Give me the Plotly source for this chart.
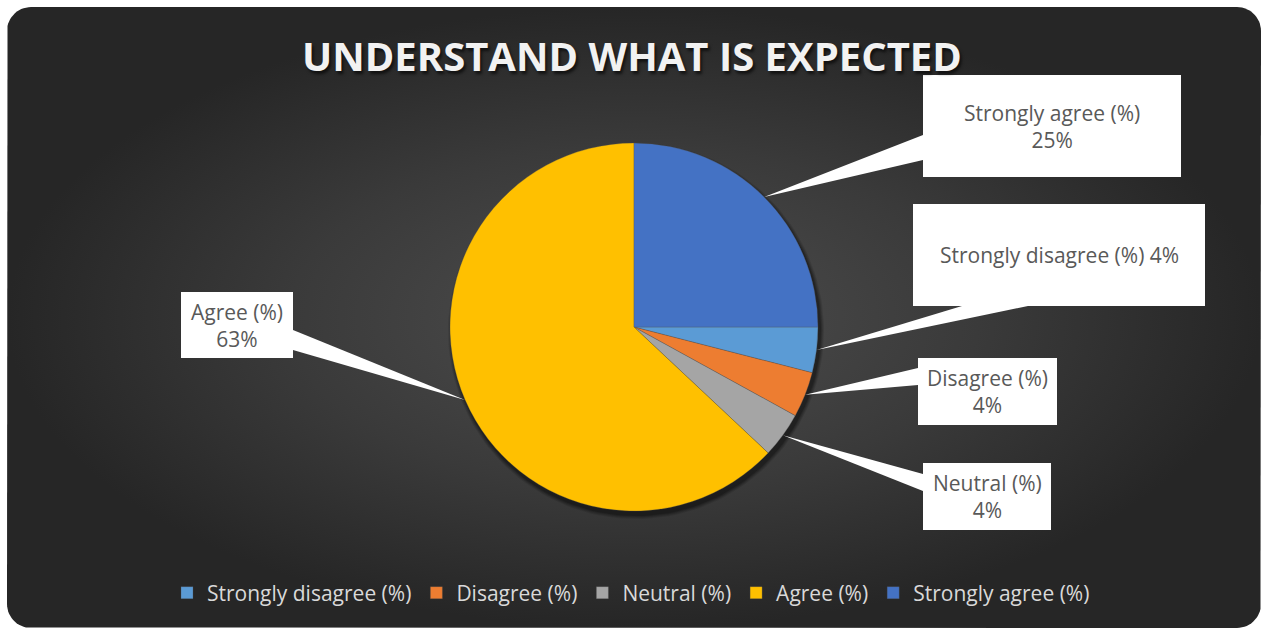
import numpy as np
import plotly.graph_objects as go

# ---------------- data ----------------
labels = ["Strongly disagree (%)", "Disagree (%)", "Neutral (%)", "Agree (%)", "Strongly agree (%)"]
values = [4, 4, 4, 63, 25]
colors = ["#5b9bd5", "#ed7d31", "#a5a5a5", "#ffc000", "#4472c4"]
title_text = "UNDERSTAND WHAT IS EXPECTED"
single_line = [True, False, False, False, False]

# ---------------- layout geometry (pixels) ----------------
W, H = 1262, 628
CX, CY, R = 634, 327, 184
ROTATION = 90  # first slice starts at 3 o'clock

# callout boxes: (x0, y0, x1, y1) and the two base points of the leader wedge
boxes = [
    (913, 204, 1205, 306), # Strongly disagree
    (918, 358, 1057, 425), # Disagree
    (923, 463, 1051, 530), # Neutral
    (181, 292, 293, 358),  # Agree
    (923, 75, 1181, 177),  # Strongly agree
]
wedge_bases = [
    ((962, 306), (1028, 306)),
    ((918, 368), (918, 385)),
    ((923, 474), (923, 491)),
    ((293, 330), (293, 350)),
    ((923, 135), (923, 160)),
]

FONT = "Open Sans"

fig = go.Figure()

# ---- background rounded rectangle with radial gradient ----
def rounded_rect(x0, y0, x1, y1, r, n=16):
    pts = []
    corners = [
        (x1 - r, y0 + r, -90, 0),
        (x1 - r, y1 - r, 0, 90),
        (x0 + r, y1 - r, 90, 180),
        (x0 + r, y0 + r, 180, 270),
    ]
    for cx, cy, a0, a1 in corners:
        for a in np.linspace(np.radians(a0), np.radians(a1), n):
            pts.append((cx + r * np.cos(a), cy + r * np.sin(a)))
    pts.append(pts[0])
    xs, ys = zip(*pts)
    return list(xs), list(ys)

bx, by = rounded_rect(7, 7, 1261, 628, 24)
fig.add_trace(go.Scatter(
    x=bx, y=by, mode="lines", fill="toself", line=dict(width=0),
    fillgradient=dict(type="radial",
                      colorscale=[[0, "#4e4e4e"], [0.55, "#3a3a3a"], [1, "#262626"]]),
    hoverinfo="skip", showlegend=False,
))

# ---- pie shadow ----
th = np.linspace(0, 2 * np.pi, 181)
for dr, a in [(4, 0.10), (3, 0.12), (2, 0.15), (1, 0.2)]:
    fig.add_trace(go.Scatter(
        x=list(CX + 2 + (R + dr) * np.cos(th)), y=list(CY + 4 + (R + dr) * np.sin(th)),
        mode="lines", fill="toself", line=dict(width=0),
        fillcolor=f"rgba(0,0,0,{a})", hoverinfo="skip", showlegend=False,
    ))

# ---- pie ----
fig.add_trace(go.Pie(
    labels=labels, values=values, sort=False, direction="clockwise",
    rotation=ROTATION, textinfo="none", hoverinfo="label+percent",
    marker=dict(colors=colors, line=dict(width=0.5, color="rgba(80,80,80,0.6)")),
    domain=dict(x=[(CX - R) / W, (CX + R) / W], y=[1 - (CY + R) / H, 1 - (CY - R) / H]),
    showlegend=True,
))

# ---- callouts ----
total = float(sum(values))
cum = 0.0
shapes = []
annotations = []
for i, (lab, v) in enumerate(zip(labels, values)):
    mid = ROTATION + (cum + v / 2) / total * 360.0
    cum += v
    tx = CX + R * np.sin(np.radians(mid))
    ty = CY - R * np.cos(np.radians(mid))
    (b1x, b1y), (b2x, b2y) = wedge_bases[i]
    shapes.append(dict(type="path", xref="x", yref="y",
                       path=f"M{b1x},{b1y} L{tx:.1f},{ty:.1f} L{b2x},{b2y} Z",
                       fillcolor="white", line=dict(width=0), layer="above"))
    x0, y0, x1, y1 = boxes[i]
    shapes.append(dict(type="rect", xref="x", yref="y", x0=x0, y0=y0, x1=x1, y1=y1,
                       fillcolor="white", line=dict(width=0), layer="above"))
    pct = round(v / total * 100)
    txt = f"{lab} {pct}%" if single_line[i] else f"{lab}<br>{pct}%"
    annotations.append(dict(x=(x0 + x1) / 2, y=(y0 + y1) / 2, xref="x", yref="y",
                            text=txt, showarrow=False, align="center",
                            xanchor="center", yanchor="middle",
                            font=dict(family=FONT, size=21, color="#595959")))

annotations.append(dict(x=W / 2 + 1, y=55, xref="x", yref="y", text=title_text,
                        showarrow=False, xanchor="center", yanchor="middle",
                        font=dict(family=FONT, size=40, color="#f2f2f2", weight=700,
                                  shadow="2px 3px 3px rgba(0,0,0,0.6)")))

fig.update_layout(
    width=W, height=H, margin=dict(l=0, r=0, t=0, b=0),
    paper_bgcolor="white", plot_bgcolor="rgba(0,0,0,0)",
    xaxis=dict(range=[0, W], visible=False, fixedrange=True, domain=[0, 1]),
    yaxis=dict(range=[H, 0], visible=False, fixedrange=True, domain=[0, 1]),
    shapes=shapes, annotations=annotations,
    legend=dict(orientation="h", x=0.5, xanchor="center", y=1 - 593 / H, yanchor="middle",
                bgcolor="rgba(0,0,0,0)", font=dict(family=FONT, size=21, color="#d9d9d9"),
                traceorder="normal"),
    font=dict(family=FONT),
)

fig.write_html("out.html")
